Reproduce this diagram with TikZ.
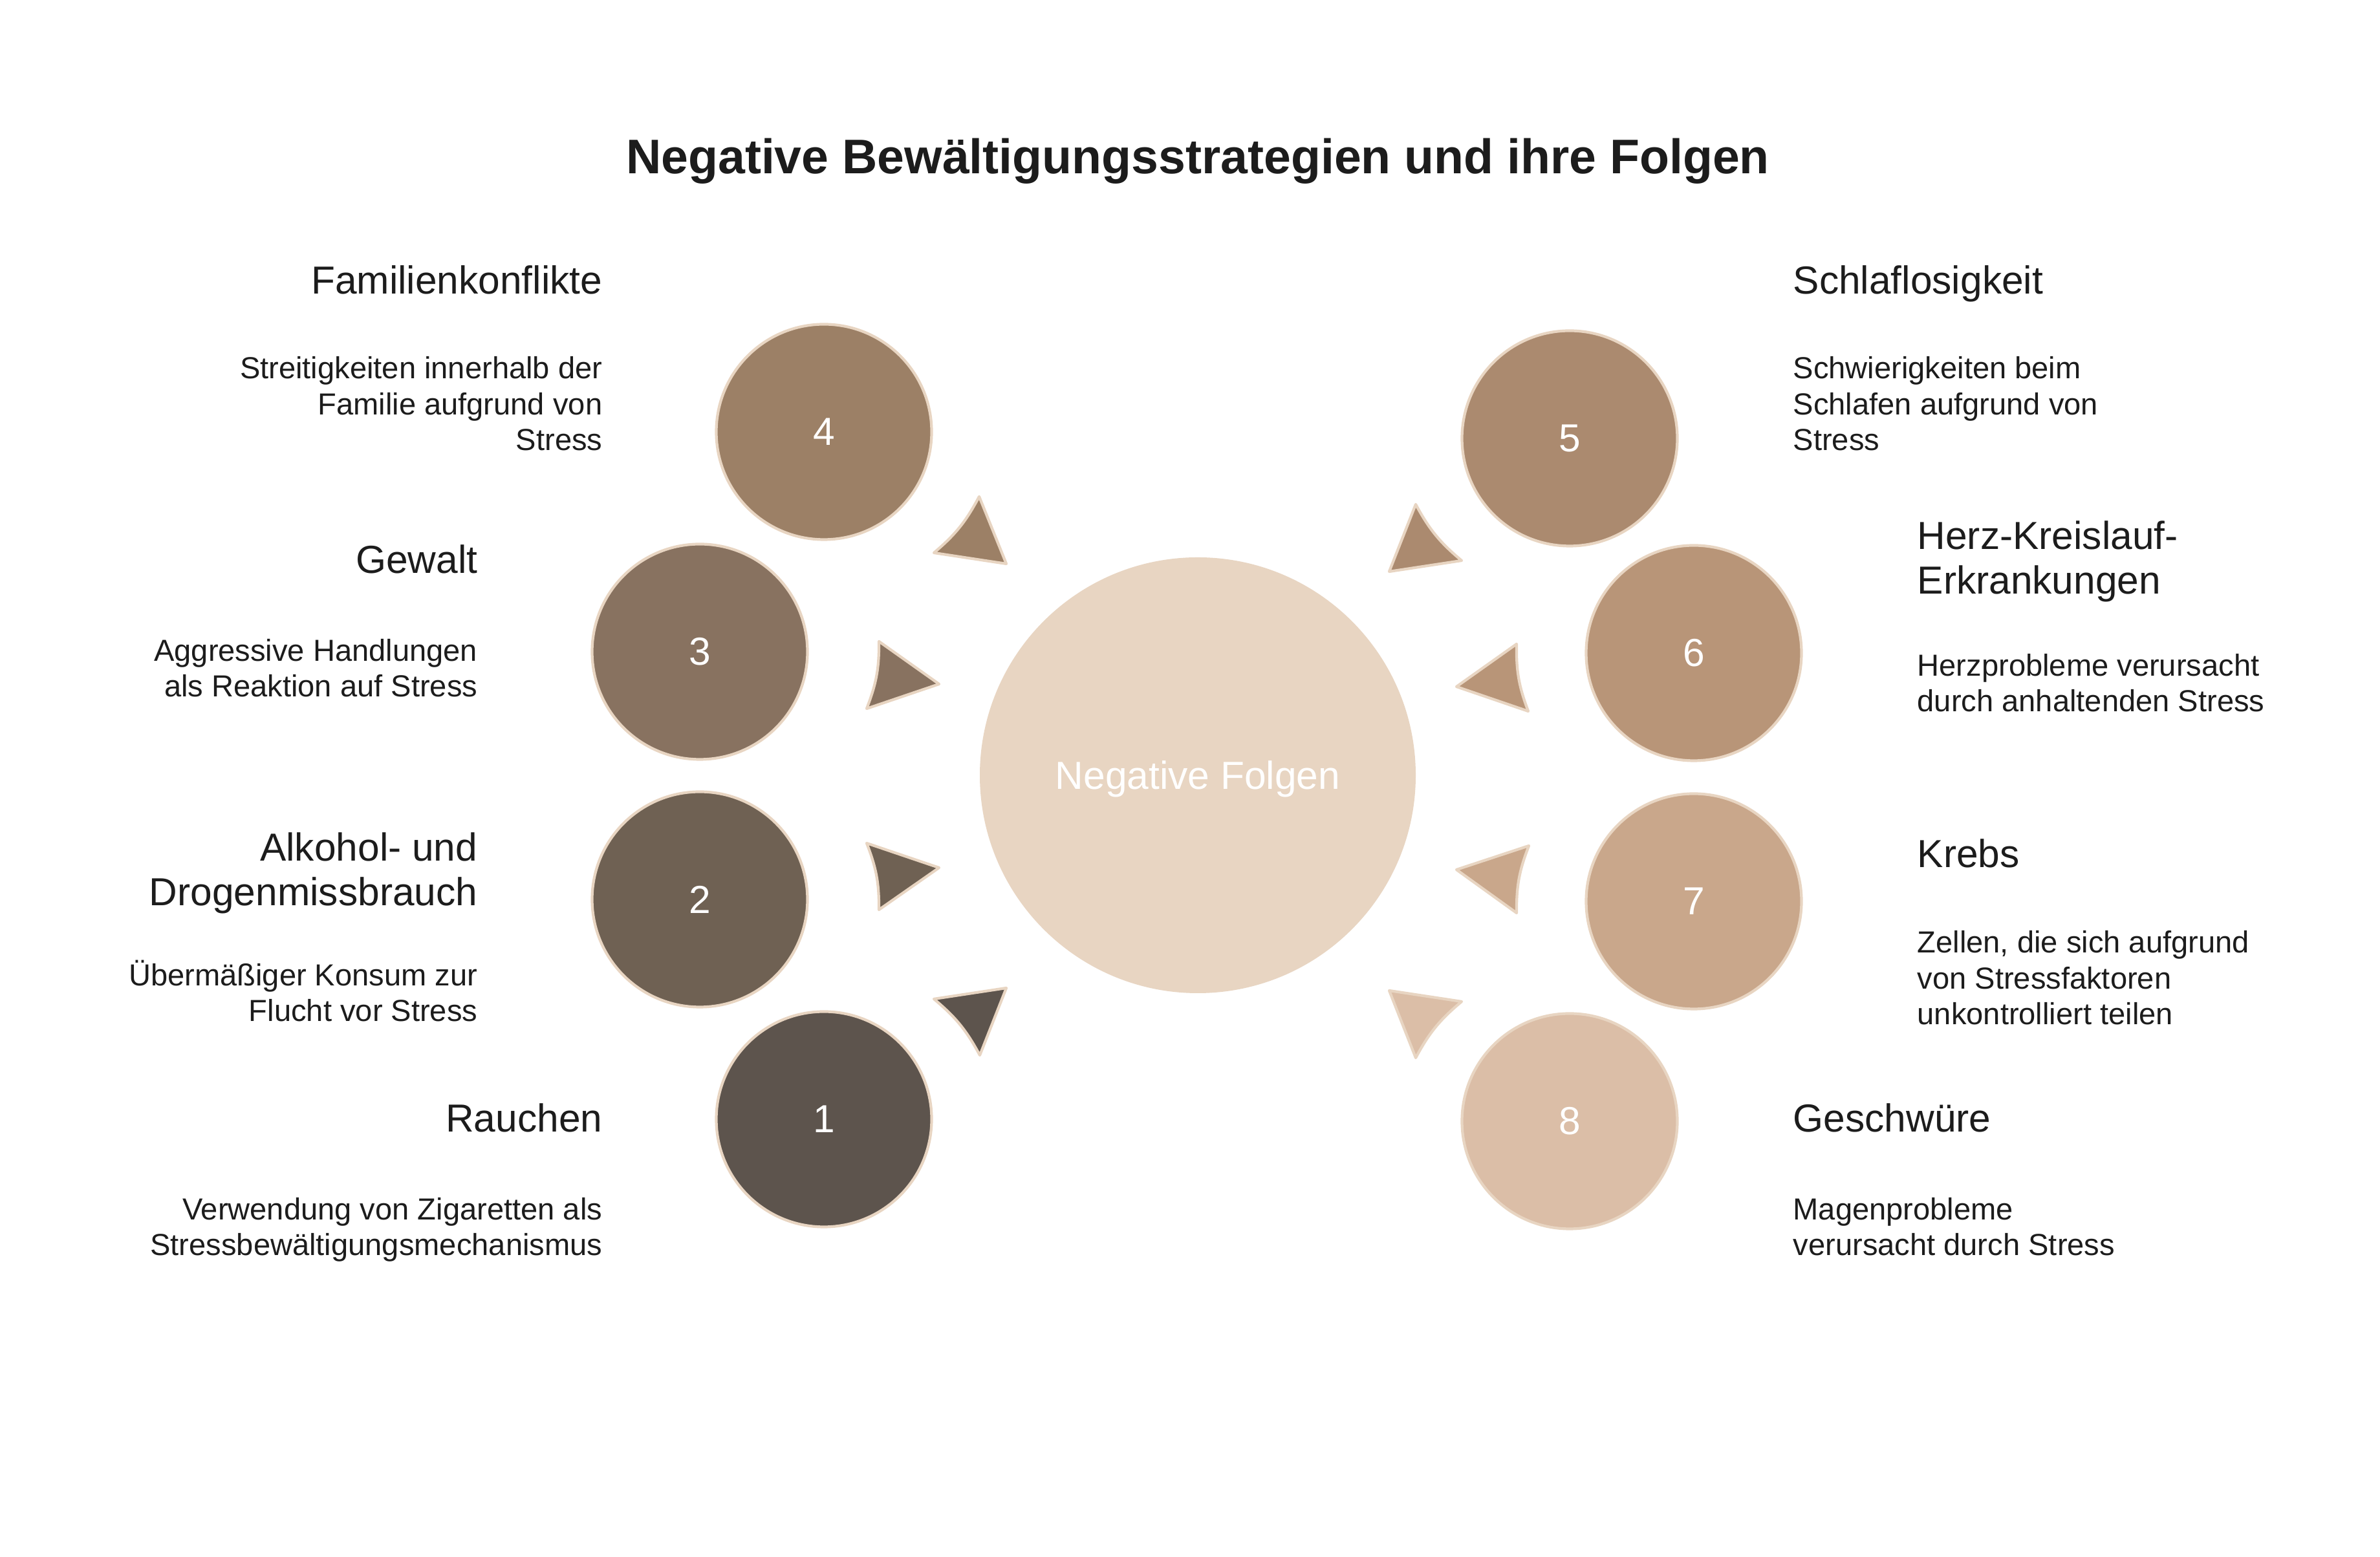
\documentclass[tikz,border=0pt]{standalone}
\usepackage{fontspec}
\setmainfont{Liberation Sans}
\usetikzlibrary{positioning}
\definecolor{fone}{HTML}{5D544D}
\definecolor{ftwo}{HTML}{6F6153}
\definecolor{fthree}{HTML}{887260}
\definecolor{ffour}{HTML}{9C8066}
\definecolor{ffive}{HTML}{AB8A6F}
\definecolor{fsix}{HTML}{B89578}
\definecolor{fseven}{HTML}{C9A78B}
\definecolor{feight}{HTML}{DBBEA7}
\definecolor{fhub}{HTML}{E8D5C2}
\definecolor{fedge}{HTML}{E8D5C2}
\definecolor{ftext}{HTML}{1C1C1C}
\newcommand{\titlefont}{\fontsize{21.4}{25}\selectfont\bfseries}
\newcommand{\headfont}{\fontsize{17.2}{19.9}\selectfont}
\newcommand{\descfont}{\fontsize{13.4}{15.9}\selectfont}
\newcommand{\numfont}{\fontsize{17.2}{20}\selectfont}
\tikzset{
  hub/.style={circle, fill=fhub, minimum size=6.74cm, inner sep=0pt,
              text depth=0pt, text=white, font=\numfont},
  numc/.style={circle, draw=fedge, line width=1.2pt, fill=#1,
               minimum size=3.33cm, inner sep=0pt, text=white, font=\numfont},
  tip/.style={fill=#1, draw=fedge, line width=1.2pt, line join=round},
  headl/.style={inner sep=0pt, text=ftext, font=\headfont, align=right, anchor=base east},
  descl/.style={inner sep=0pt, text=ftext, font=\descfont, align=right, anchor=base east},
  headr/.style={inner sep=0pt, text=ftext, font=\headfont, align=left, anchor=base west},
  descr/.style={inner sep=0pt, text=ftext, font=\descfont, align=left, anchor=base west},
}

\begin{document}
\begin{tikzpicture}

  \fill[white] (0,0) rectangle (36.80,24.08);
  \useasboundingbox (0,0) rectangle (36.80,24.08);

  % Titel
  \node[inner sep=0pt, anchor=base, text=ftext, font=\titlefont] (titel) at (18.52,21.39)
    {Negative Bewältigungsstrategien und ihre Folgen};

  % Mitte
  \node[hub] (mitte) at (18.52,12.09) {Negative Folgen};

  % Strategien links
  \node[numc=ffour]  (n4) at (12.74,17.40) {4};
  \node[numc=fthree] (n3) at (10.82,14.00) {3};
  \node[numc=ftwo]   (n2) at (10.82,10.17) {2};
  \node[numc=fone]   (n1) at (12.74,6.77)  {1};

  % Folgen rechts
  \node[numc=ffive]  (n5) at (24.27,17.30) {5};
  \node[numc=fsix]   (n6) at (26.19,13.98) {6};
  \node[numc=fseven] (n7) at (26.19,10.14) {7};
  \node[numc=feight] (n8) at (24.27,6.74)  {8};

  % Pfeilspitzen zur Mitte
  \draw[tip=ffour]  (15.14,16.40) to[bend left=11] (14.44,15.53) -- (15.56,15.36) -- cycle;
  \draw[tip=fthree] (13.59,14.16) to[bend left=11] (13.40,13.12) -- (14.52,13.50) -- cycle;
  \draw[tip=ftwo]   (13.40,11.04) to[bend left=11] (13.59,10.01) -- (14.52,10.66) -- cycle;
  \draw[tip=fone]   (14.44,8.63)  to[bend left=11] (15.15,7.76)  -- (15.56,8.80)  -- cycle;
  \draw[tip=ffive]  (21.89,16.28) to[bend right=11] (22.60,15.41) -- (21.48,15.24) -- cycle;
  \draw[tip=fsix]   (23.45,14.12) to[bend right=11] (23.63,13.08) -- (22.52,13.46) -- cycle;
  \draw[tip=fseven] (23.64,11.00) to[bend right=11] (23.45,9.96)  -- (22.52,10.63) -- cycle;
  \draw[tip=feight] (22.60,8.59)  to[bend right=11] (21.89,7.72)  -- (21.48,8.76)  -- cycle;

  % Beschriftungen links (base = letzte Zeile)
  \node[headl] (h4) at (9.32,19.53) {Familienkonflikte};
  \node[descl] (d4) at (9.32,17.11) {Streitigkeiten innerhalb der\\Familie aufgrund von\\Stress};
  \node[headl] (h3) at (7.39,15.21) {Gewalt};
  \node[descl] (d3) at (7.39,13.30) {Aggressive Handlungen\\als Reaktion auf Stress};
  \node[headl] (h2) at (7.39,10.07) {Alkohol- und\\Drogenmissbrauch};
  \node[descl] (d2) at (7.39,8.28)  {Übermäßiger Konsum zur\\Flucht vor Stress};
  \node[headl] (h1) at (9.32,6.57)  {Rauchen};
  \node[descl] (d1) at (9.32,4.66)  {Verwendung von Zigaretten als\\Stressbewältigungsmechanismus};

  % Beschriftungen rechts
  \node[headr] (h5) at (27.72,19.53) {Schlaflosigkeit};
  \node[descr] (d5) at (27.72,17.11) {Schwierigkeiten beim\\Schlafen aufgrund von\\Stress};
  \node[headr] (h6) at (29.64,14.89) {Herz-Kreislauf-\\Erkrankungen};
  \node[descr] (d6) at (29.64,13.07) {Herzprobleme verursacht\\durch anhaltenden Stress};
  \node[headr] (h7) at (29.64,10.66) {Krebs};
  \node[descr] (d7) at (29.64,8.23)  {Zellen, die sich aufgrund\\von Stressfaktoren\\unkontrolliert teilen};
  \node[headr] (h8) at (27.72,6.57)  {Geschwüre};
  \node[descr] (d8) at (27.72,4.66)  {Magenprobleme\\verursacht durch Stress};
\end{tikzpicture}
\end{document}
